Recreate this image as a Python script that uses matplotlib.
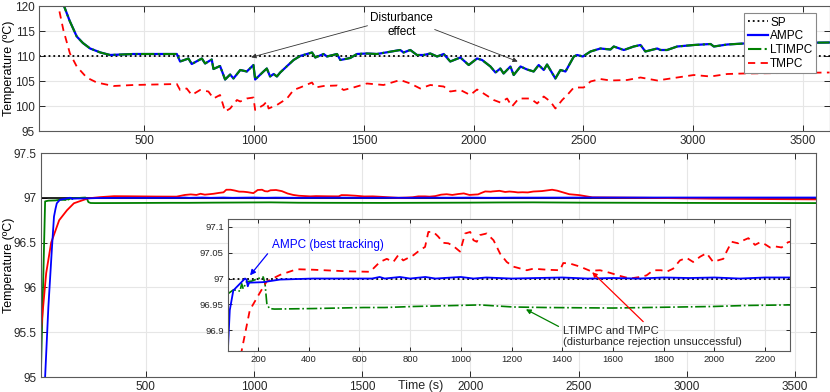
import matplotlib
matplotlib.use("Agg")
import matplotlib.pyplot as plt
from matplotlib.ticker import FuncFormatter

plt.rcParams['font.family'] = ['Liberation Sans', 'DejaVu Sans']

# ---------------- top panel data ----------------
sp_top = 110.0
top_ampc_t = [20, 60, 100, 134, 160, 192, 220, 253, 300, 344, 450, 648, 663, 701, 716, 762,
              777, 807, 815, 845, 868, 891, 906, 937, 967, 997, 1005, 1043, 1058, 1073, 1089,
              1104, 1119, 1180, 1210, 1264, 1279, 1317, 1332, 1378, 1393, 1438, 1469, 1514,
              1560, 1666, 1681, 1712, 1742, 1773, 1803, 1834, 1864, 1894, 1940, 1978, 2016,
              2039, 2077, 2100, 2122, 2137, 2168, 2183, 2214, 2244, 2274, 2297, 2320, 2335,
              2373, 2396, 2419, 2457, 2472, 2498, 2533, 2578, 2624, 2639, 2685, 2730, 2761,
              2783, 2837, 2852, 2882, 2928, 3004, 3080, 3095, 3156, 3232, 3622]
top_ampc = [160, 135, 124.5, 120, 117, 113.9, 112.6, 111.5, 110.7, 110.2, 110.4, 110.4, 108.9,
            109.5, 108.4, 109.5, 108.5, 109.3, 107.4, 108.0, 105.3, 106.3, 105.5, 107.2, 106.9,
            108.2, 105.3, 106.9, 107.5, 105.9, 106.4, 105.9, 106.7, 109.2, 110.0, 110.7, 109.7,
            110.4, 109.9, 110.4, 109.2, 109.6, 110.4, 110.5, 110.4, 111.2, 110.7, 111.2, 110.2,
            110.2, 110.5, 109.9, 110.4, 108.9, 109.7, 108.2, 109.5, 109.2, 107.9, 106.7, 107.5,
            106.5, 107.9, 106.2, 107.9, 107.3, 106.9, 108.2, 107.2, 108.3, 105.5, 107.2, 106.9,
            109.9, 110.2, 109.9, 110.9, 111.5, 111.3, 111.9, 111.2, 111.9, 112.2, 110.9, 111.5,
            111.2, 111.2, 111.9, 112.2, 112.4, 111.9, 112.3, 112.5, 112.7]
top_ltimpc = list(top_ampc)

top_tmpc_t = [20, 60, 90, 108, 131, 161, 192, 237, 283, 359, 450, 648, 663, 693, 716, 754, 792,
              815, 845, 868, 891, 922, 937, 967, 997, 1005, 1043, 1058, 1066, 1104, 1150, 1180,
              1210, 1264, 1279, 1317, 1378, 1408, 1453, 1514, 1590, 1666, 1712, 1757, 1803,
              1864, 1894, 1940, 1985, 2016, 2046, 2092, 2122, 2153, 2175, 2206, 2259, 2290,
              2320, 2350, 2373, 2404, 2427, 2457, 2502, 2533, 2578, 2624, 2700, 2761, 2837,
              2928, 3004, 3080, 3156, 3232, 3622]
top_tmpc = [160, 135, 125, 120, 115.2, 110.5, 107.9, 105.7, 104.7, 104.0, 104.2, 104.4, 103.2,
            103.5, 102.2, 103.2, 102.9, 101.5, 102.2, 98.9, 99.5, 101.2, 100.9, 101.5, 101.7,
            99.2, 100.2, 100.9, 99.5, 100.2, 101.5, 103.2, 103.7, 104.7, 103.7, 104.0, 104.1,
            103.2, 103.7, 104.5, 104.2, 105.2, 104.5, 103.5, 104.2, 103.9, 102.9, 103.2, 102.2,
            103.3, 102.5, 101.2, 100.7, 101.5, 99.9, 101.5, 101.5, 100.5, 101.9, 100.9, 99.5,
            101.2, 102.2, 103.7, 103.7, 104.9, 105.4, 105.1, 105.2, 105.7, 105.1, 105.7, 106.2,
            105.9, 106.4, 106.5, 106.7]

# ---------------- bottom panel data ----------------
sp_bot = 97.0
bot_ampc_t = [20, 35, 50, 66, 76, 83, 89, 103, 129, 149, 155, 160, 165, 221, 287, 418, 650, 680,
              700, 760, 800, 860, 900, 1000, 1050, 1100, 1200, 1300, 1400, 1500, 1600, 1700,
              1800, 1900, 2000, 2100, 2200, 2300, 2600, 3000, 3600]
bot_ampc = [93.8, 95.0, 95.78, 96.42, 96.79, 96.877, 96.939, 96.977, 96.990, 97.000, 96.998,
            96.985, 96.992, 96.993, 96.998, 97.000, 97.000, 97.003, 97.000, 97.003, 97.000,
            97.003, 97.000, 97.003, 97.000, 97.002, 97.000, 97.001, 97.002, 97.000, 97.001,
            97.000, 97.002, 97.001, 97.002, 97.000, 97.002, 97.002, 97.003, 97.003, 97.003]

bot_ltimpc_t = [16, 27, 35, 50, 83, 103, 123, 129, 136, 142, 155, 175, 201, 221, 228, 235, 245,
                265, 418, 616, 700, 813, 900, 1076, 1207, 1339, 1600, 1730, 1995, 2130, 2290,
                2500, 3000, 3600]
bot_ltimpc = [95.08, 96.16, 96.96, 96.968, 96.971, 96.978, 96.977, 96.975, 96.990, 96.980,
              96.994, 96.995, 97.000, 97.003, 96.990, 96.952, 96.942, 96.941, 96.942, 96.944,
              96.944, 96.946, 96.947, 96.949, 96.945, 96.944, 96.943, 96.944, 96.946, 96.948,
              96.949, 96.946, 96.943, 96.941]

bot_tmpc_t = [16, 40, 63, 100, 136, 168, 213, 234, 287, 353, 418, 550, 642, 681, 708, 734, 753,
              773, 813, 839, 859, 872, 892, 911, 931, 951, 970, 997, 1017, 1037, 1050, 1063,
              1076, 1102, 1129, 1155, 1181, 1207, 1260, 1286, 1339, 1391, 1404, 1430, 1470,
              1509, 1549, 1588, 1628, 1667, 1706, 1732, 1759, 1790, 1811, 1837, 1864, 1890,
              1916, 1943, 1969, 1995, 2020, 2035, 2048, 2068, 2094, 2101, 2134, 2160, 2180,
              2200, 2219, 2240, 2265, 2290, 2330, 2377, 2400, 2456, 2502, 2563, 2810, 3120, 3600]
bot_tmpc = [95.52, 96.16, 96.50, 96.75, 96.861, 96.939, 96.977, 96.994, 97.007, 97.018, 97.017,
            97.014, 97.013, 97.032, 97.038, 97.032, 97.045, 97.035, 97.045, 97.055, 97.061,
            97.090, 97.090, 97.081, 97.069, 97.068, 97.063, 97.052, 97.087, 97.090, 97.074,
            97.071, 97.084, 97.087, 97.074, 97.048, 97.032, 97.023, 97.016, 97.019, 97.017,
            97.016, 97.030, 97.029, 97.023, 97.015, 97.016, 97.011, 97.005, 97.000, 97.003,
            97.006, 97.016, 97.016, 97.013, 97.019, 97.035, 97.040, 97.032, 97.042, 97.049,
            97.032, 97.036, 97.038, 97.052, 97.071, 97.068, 97.071, 97.078, 97.065, 97.070,
            97.066, 97.060, 97.062, 97.060, 97.070, 97.075, 97.090, 97.080, 97.040, 97.030,
            97.005, 97.000, 96.990, 96.982]

BLUE = '#0000ff'
GREEN = '#008000'
RED = '#ff0000'
SPINE = '#5a5a5a'
GRID = '#e6e6e6'
W, H = 830, 392


def rect(l, t, r, b):
    return [l / W, 1 - b / H, (r - l) / W, (b - t) / H]


def style(ax, fs=8.5):
    ax.grid(True, color=GRID, lw=0.8)
    ax.set_axisbelow(True)
    for s in ax.spines.values():
        s.set_color(SPINE)
        s.set_linewidth(0.8)
    ax.tick_params(direction='in', top=True, right=True, labelsize=fs,
                   colors='#262626', length=4, width=0.7, pad=3)
    ax.yaxis.set_major_formatter(FuncFormatter(lambda v, p: '%g' % round(v, 3)))


fig = plt.figure(figsize=(W / 100, H / 100), dpi=100)

# ---- top ----
ax1 = fig.add_axes(rect(39, 6, 829.5, 131))
style(ax1)
l_sp, = ax1.plot([20, 3622], [sp_top, sp_top], ':', color='black', lw=1.3, label='SP')
l_a, = ax1.plot(top_ampc_t, top_ampc, '-', color=BLUE, lw=1.6, label='AMPC')
l_l, = ax1.plot(top_ampc_t, top_ltimpc, '-.', color=GREEN, lw=1.5, label='LTIMPC')
l_t, = ax1.plot(top_tmpc_t, top_tmpc, '--', color=RED, lw=1.3, dashes=(4, 3), label='TMPC')
ax1.set_xlim(20, 3622)
ax1.set_ylim(95, 120)
ax1.set_xticks([500, 1000, 1500, 2000, 2500, 3000, 3500])
ax1.set_yticks([95, 100, 105, 110, 115, 120])
ax1.set_ylabel('Temperature (ºC)', fontsize=9)
ax1.yaxis.set_label_coords((15 - 39) / 790.5, 0.5)
leg = ax1.legend(handles=[l_sp, l_a, l_l, l_t], loc='upper right',
                 bbox_to_anchor=(816 / W, 1 - 13 / H), bbox_transform=fig.transFigure,
                 fancybox=False, edgecolor='#888888', framealpha=1, fontsize=8.5,
                 handlelength=1.7, borderpad=0.3, labelspacing=0.15, handletextpad=0.2,
                 borderaxespad=0)
leg.get_frame().set_linewidth(0.8)
ax1.text(1671, 116.2, 'Disturbance\neffect', ha='center', va='center', fontsize=8.5,
         linespacing=1.2)
ax1.annotate('', xy=(975, 109.6), xytext=(1529, 116.2),
             arrowprops=dict(arrowstyle='-|>', color='#333333', lw=0.6,
                             mutation_scale=7))
ax1.annotate('', xy=(2213, 108.7), xytext=(1811, 115.5),
             arrowprops=dict(arrowstyle='-|>', color='#333333', lw=0.6,
                             mutation_scale=7))

# ---- bottom ----
ax2 = fig.add_axes(rect(41, 153, 816, 377))
style(ax2)
ax2.plot([16, 3600], [sp_bot, sp_bot], '-', color='black', lw=1.2)
ax2.plot(bot_ltimpc_t, bot_ltimpc, '-', color=GREEN, lw=1.3)
ax2.plot(bot_tmpc_t, bot_tmpc, '-', color=RED, lw=1.3)
ax2.plot(bot_ampc_t, bot_ampc, '-', color=BLUE, lw=1.3)
ax2.set_xlim(16, 3596)
ax2.set_ylim(95, 97.5)
ax2.set_xticks([500, 1000, 1500, 2000, 2500, 3000, 3500])
ax2.set_yticks([95, 95.5, 96, 96.5, 97, 97.5])
ax2.set_ylabel('Temperature (ºC)', fontsize=9)
ax2.yaxis.set_label_coords((15 - 41) / 775, 0.5)
fig.text(421 / W, 1 - 386 / H, 'Time (s)', ha='center', va='center', fontsize=9,
         color='#262626')

# ---- inset ----
ax3 = fig.add_axes(rect(228, 219, 790, 351))
style(ax3, fs=6.8)
ax3.tick_params(length=3)
ax3.plot([82, 2298], [sp_bot, sp_bot], ':', color='black', lw=1.3)
ax3.plot(bot_ltimpc_t, bot_ltimpc, '-.', color=GREEN, lw=1.2)
ax3.plot(bot_tmpc_t, bot_tmpc, '--', color=RED, lw=1.3, dashes=(4, 3))
ax3.plot(bot_ampc_t, bot_ampc, '-', color=BLUE, lw=1.3)
ax3.set_xlim(82, 2298)
ax3.set_ylim(96.86, 97.115)
ax3.set_xticks(range(200, 2201, 200))
ax3.set_yticks([96.9, 96.95, 97, 97.05, 97.1])

ax3.text(254, 97.064, 'AMPC (best tracking)', color=BLUE, fontsize=8.5, ha='left', va='center')
ax3.annotate('', xy=(162, 97.002), xytext=(245, 97.052),
             arrowprops=dict(arrowstyle='-|>', color=BLUE, lw=0.9, mutation_scale=8))
ax3.text(1404, 96.888, 'LTIMPC and TMPC\n(disturbance rejection unsuccessful)',
         fontsize=8, ha='left', va='center', linespacing=1.2, color='#262626')
ax3.annotate('', xy=(1247, 96.943), xytext=(1395, 96.905),
             arrowprops=dict(arrowstyle='-|>', color=GREEN, lw=0.9, mutation_scale=7))
ax3.annotate('', xy=(1510, 97.016), xytext=(1727, 96.913),
             arrowprops=dict(arrowstyle='-|>', color=RED, lw=0.9, mutation_scale=7))

fig.savefig('out.png', dpi=100)
